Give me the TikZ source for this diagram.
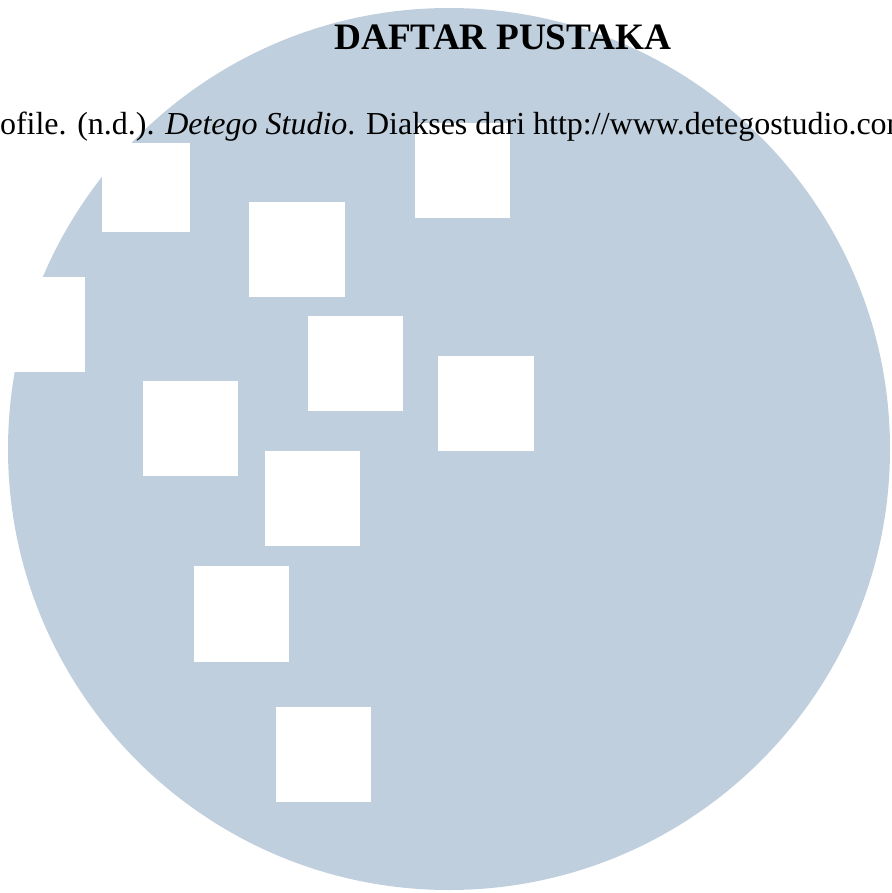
\documentclass[tikz,border=0pt]{standalone}
\usepackage{fontspec}
\setmainfont{Liberation Serif}
\definecolor{circblue}{RGB}{191,207,221}
\begin{document}
\begin{tikzpicture}[x=1pt,y=-1pt,
  hole/.style={fill=white, draw=none},
  txt/.style={inner sep=0pt, outer sep=0pt, text=black}]
\useasboundingbox (0,0) rectangle (891,893);
\clip (0,0) rectangle (891,893);
\fill[circblue] (449,449) circle[radius=441];
\foreach \a/\b/\c/\d in {102/143/190/232, 249/202/345/297, 415/123/510/218,
  -10/277/85/372, 308/316/403/411, 438/356/534/451, 143/381/238/476,
  265/451/360/546, 194/566/289/662, 276/707/371/802}
  \fill[hole] (\a,\b) rectangle (\c,\d);
\node[txt, anchor=base, font=\fontsize{37.3}{44}\selectfont\bfseries] (title) at (503,50) {DAFTAR PUSTAKA};
\node[txt, anchor=base west, font=\fontsize{32}{38}\selectfont] (ref) at (0,135) {ofile. (n.d.). \textit{Detego Studio}. Diakses dari http://www.detegostudio.com};
\end{tikzpicture}
\end{document}
